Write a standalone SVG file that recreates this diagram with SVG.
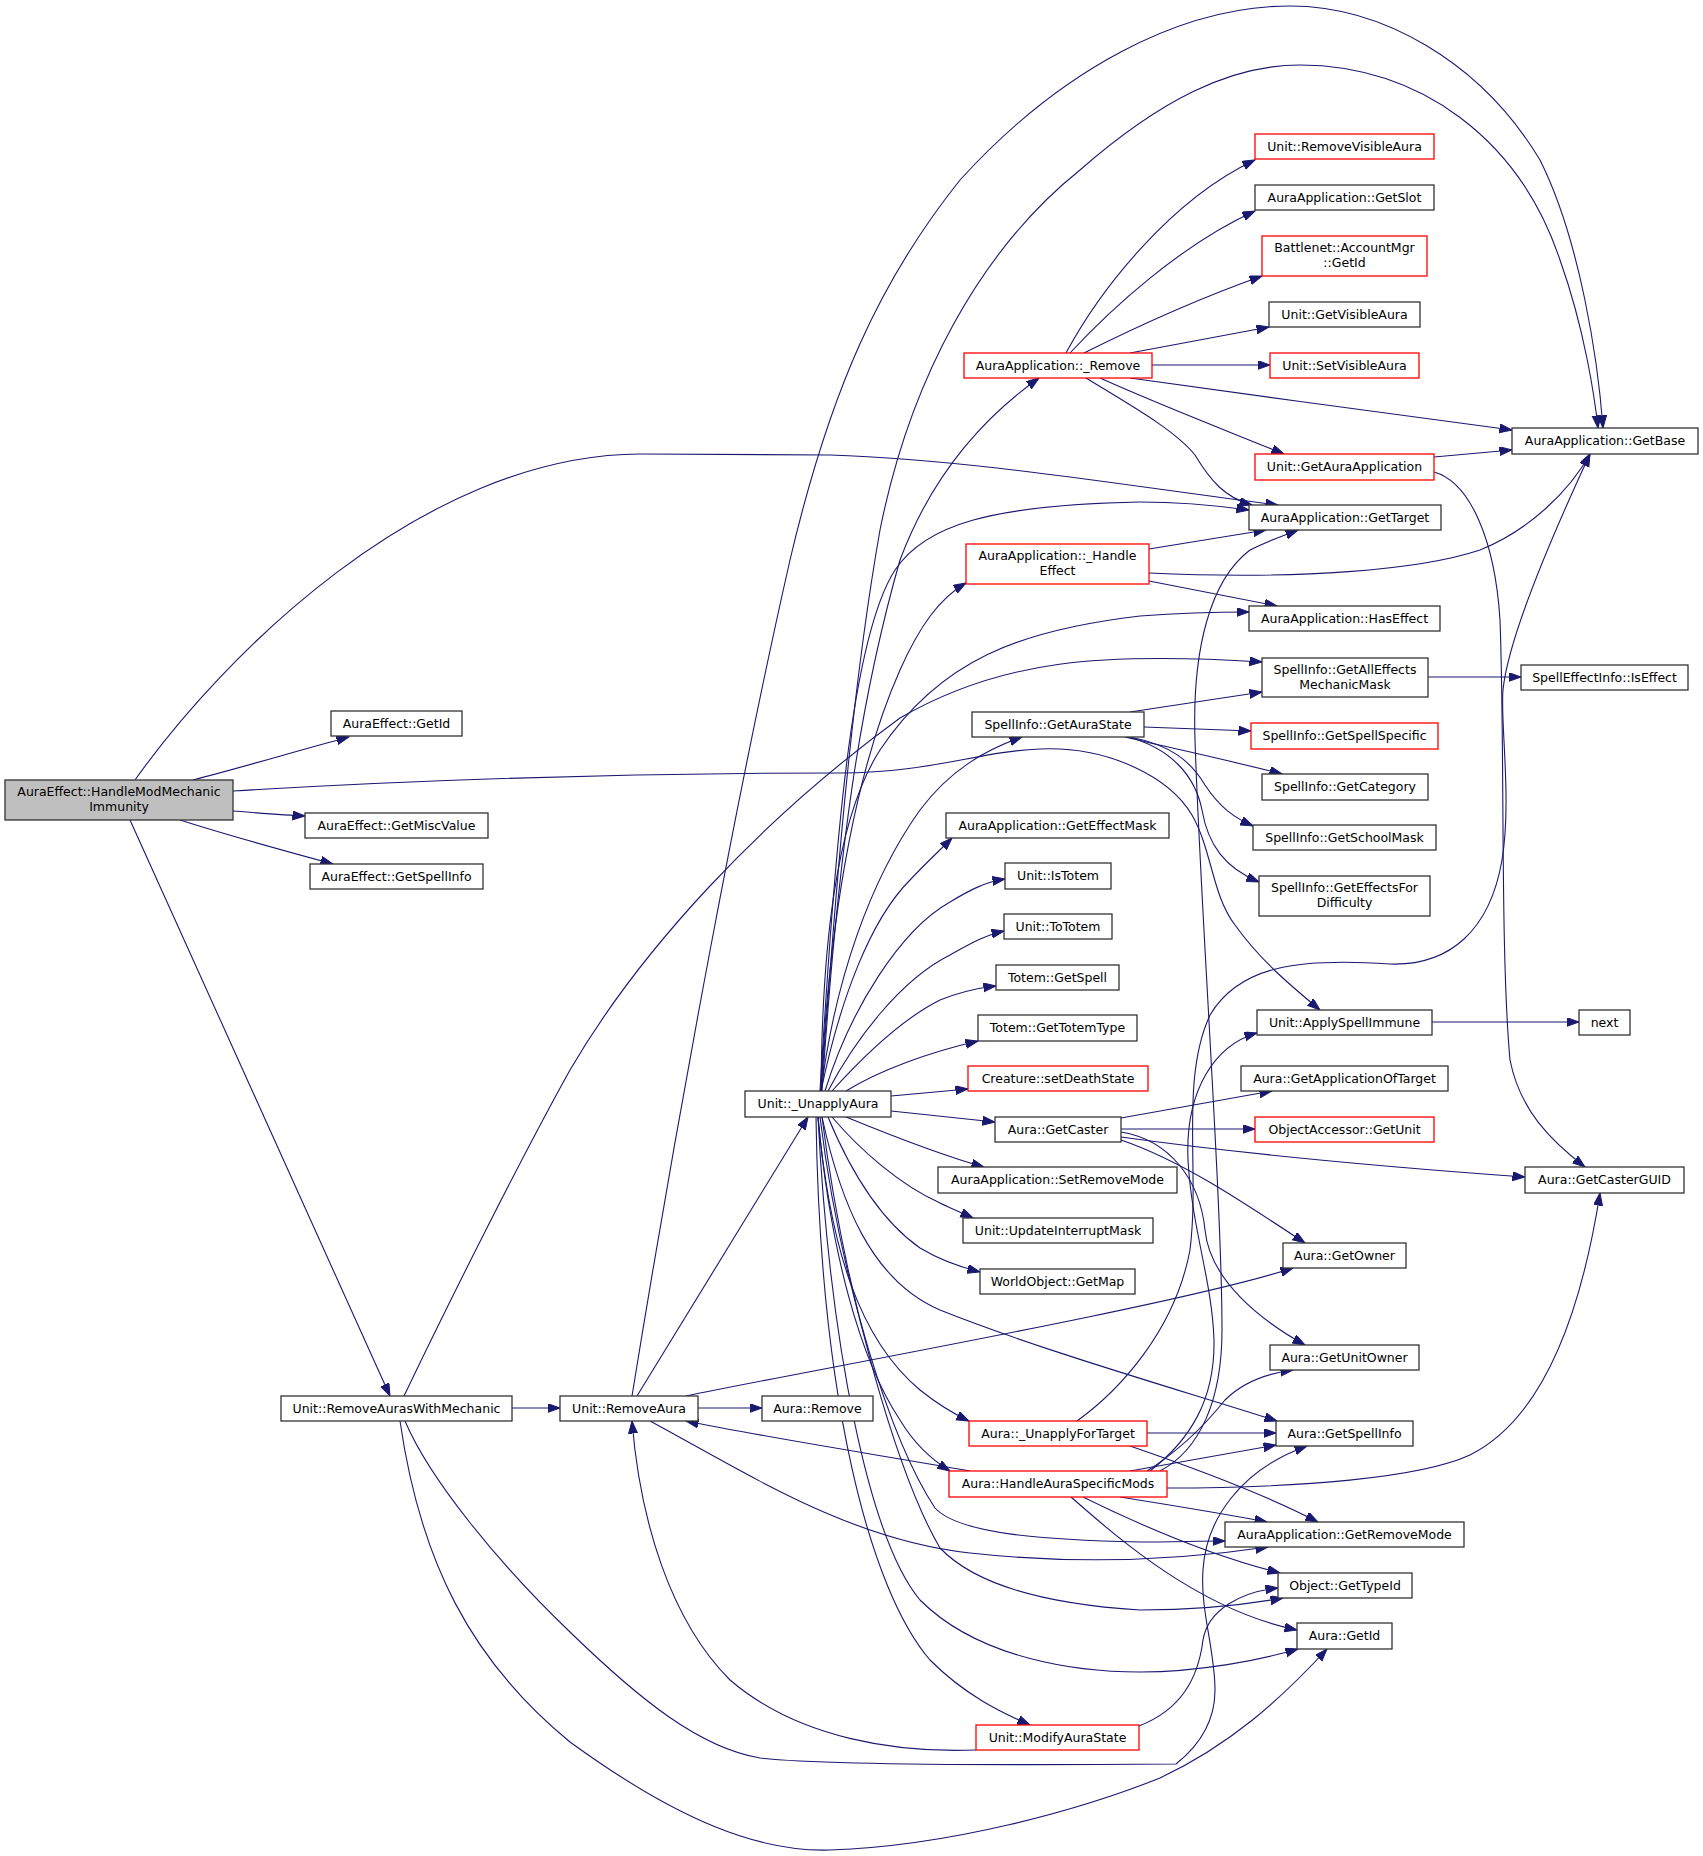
<svg xmlns="http://www.w3.org/2000/svg" width="1703" height="1856" viewBox="0 0 1703 1856">
<style>
.n rect{fill:#ffffff;stroke:#333333;stroke-width:1.3}
.r rect{fill:#ffffff;stroke:#ff0000;stroke-width:1.3}
.g rect{fill:#bfbfbf;stroke:#333333;stroke-width:1.3}
text{font-family:"DejaVu Sans",sans-serif;font-size:12.5px;text-anchor:middle;fill:#000000}
#edges path{fill:none;stroke:#191970;stroke-width:1.1;marker-end:url(#a)}
</style>
<defs>
<marker id="a" markerWidth="14" markerHeight="10" refX="12.5" refY="4.5" orient="auto" markerUnits="userSpaceOnUse">
<path d="M0,0 L12.5,4.5 L0,9 z" fill="#191970" stroke="#191970" stroke-width="1"/>
</marker>
</defs>
<rect x="0" y="0" width="1703" height="1856" fill="#ffffff"/>
<g id="edges">
<path d="M193,780 C247,766 300,750 349,737"/>
<path d="M233,811 C260,813 283,815 305,816"/>
<path d="M180,820 C230,836 285,851 333,864"/>
<path d="M130,820 L390,1396"/>
<path d="M135,780 C220,660 420,455 640,454 L830,455 C980,460 1140,488 1278,505"/>
<path d="M233,791 C400,781 600,773 840,773 C930,773 980,751 1040,749 C1110,746 1170,778 1192,815 C1212,850 1212,895 1235,925 C1260,960 1290,985 1320,1010"/>
<path d="M404,1396 C450,1300 520,1160 570,1070 C640,950 760,820 900,718 C1000,660 1100,652 1262,662"/>
<path d="M512,1408 L560,1408"/>
<path d="M405,1421 C430,1480 500,1565 570,1632 C640,1700 700,1748 760,1758 C830,1766 1050,1765 1176,1764 C1200,1745 1215,1720 1215,1690 C1215,1650 1200,1610 1203,1570 C1206,1520 1240,1470 1307,1446"/>
<path d="M400,1421 C420,1560 470,1660 570,1742 C680,1822 760,1852 830,1850 C950,1846 1080,1810 1160,1778 C1230,1745 1280,1700 1327,1649"/>
<path d="M698,1408 L762,1408"/>
<path d="M637,1396 L808,1117"/>
<path d="M632,1396 C680,1100 740,780 790,560 C830,390 880,280 960,180 C1060,70 1180,6 1290,6 C1380,6 1480,60 1540,160 C1580,240 1598,360 1603,428"/>
<path d="M686,1396 C800,1372 1180,1305 1293,1268"/>
<path d="M650,1421 C750,1475 850,1540 970,1553 C1080,1565 1180,1560 1268,1547"/>
<path d="M821,1091 C835,900 850,700 880,530 C910,380 980,250 1080,170 C1160,100 1230,65 1300,65 C1420,65 1520,140 1560,260 C1585,330 1595,400 1598,428"/>
<path d="M822,1091 C838,850 860,700 900,560 C930,480 980,420 1039,378"/>
<path d="M820,1091 C835,850 850,640 895,570 C925,525 990,505 1140,502 C1180,502 1220,506 1249,510"/>
<path d="M821,1091 C830,900 860,760 900,670 C920,625 940,598 966,583"/>
<path d="M821,1091 C822,950 835,820 880,750 C940,660 1020,630 1140,616 C1180,613 1220,612 1249,612"/>
<path d="M821,1091 C835,980 870,880 920,810 C950,770 985,750 1022,737"/>
<path d="M821,1091 C840,1000 870,920 910,880 C925,864 940,850 952,838"/>
<path d="M825,1091 C850,1010 900,930 950,902 C970,890 985,882 1005,879"/>
<path d="M828,1091 C855,1040 900,980 950,955 C968,945 985,935 1004,931"/>
<path d="M832,1091 C860,1060 900,1020 940,1000 C960,992 978,988 996,986"/>
<path d="M846,1091 C880,1070 930,1052 978,1041"/>
<path d="M891,1096 L968,1089"/>
<path d="M891,1111 L995,1122"/>
<path d="M846,1117 C890,1135 940,1155 984,1167"/>
<path d="M832,1117 C860,1150 900,1185 940,1203 C950,1208 962,1213 973,1218"/>
<path d="M828,1117 C850,1170 880,1220 920,1248 C940,1260 960,1267 980,1272"/>
<path d="M822,1117 C840,1200 870,1280 940,1310 C1040,1350 1180,1390 1277,1421"/>
<path d="M818,1117 C830,1250 860,1340 920,1390 C935,1402 950,1412 969,1421"/>
<path d="M818,1117 C830,1250 860,1360 900,1420 C915,1445 932,1460 950,1471"/>
<path d="M820,1117 C840,1280 890,1440 935,1508 C960,1535 1050,1540 1140,1542 C1170,1542 1200,1541 1225,1541"/>
<path d="M822,1117 C845,1300 900,1480 940,1548 C980,1590 1060,1605 1140,1610 C1200,1610 1250,1604 1283,1598"/>
<path d="M818,1117 C830,1350 870,1540 920,1600 C980,1660 1080,1672 1140,1672 C1200,1672 1260,1660 1298,1649"/>
<path d="M816,1117 C820,1400 870,1590 930,1660 C965,1695 1000,1712 1030,1725"/>
<path d="M970,1471 C880,1455 780,1440 686,1421"/>
<path d="M1160,1471 C1200,1450 1222,1400 1222,1330 C1222,1200 1200,900 1195,740 C1192,650 1210,580 1250,550 C1270,540 1285,535 1298,530"/>
<path d="M1150,1471 C1190,1440 1215,1400 1214,1340 C1212,1280 1192,1230 1188,1160 C1185,1090 1215,1045 1257,1033"/>
<path d="M1147,1471 C1180,1450 1205,1425 1225,1400 C1245,1380 1270,1373 1293,1370"/>
<path d="M1130,1471 L1276,1445"/>
<path d="M1167,1488 C1300,1488 1420,1478 1470,1455 C1540,1420 1580,1320 1600,1193"/>
<path d="M1120,1497 C1170,1505 1220,1513 1267,1522"/>
<path d="M1083,1497 C1150,1530 1220,1558 1280,1573"/>
<path d="M1071,1497 C1120,1540 1200,1610 1297,1630"/>
<path d="M1077,1421 C1120,1390 1175,1330 1190,1250 C1200,1170 1180,1080 1210,1015 C1240,965 1300,958 1390,964 C1450,966 1490,930 1502,860 C1512,800 1500,720 1503,690 C1508,640 1550,540 1590,454"/>
<path d="M1147,1433 L1276,1433"/>
<path d="M1130,1446 C1200,1470 1270,1497 1318,1522"/>
<path d="M976,1750 C900,1753 800,1740 730,1680 C670,1620 640,1520 632,1421"/>
<path d="M1139,1726 C1180,1710 1198,1680 1203,1640 C1208,1610 1240,1592 1278,1588"/>
<path d="M1121,1118 L1272,1091"/>
<path d="M1121,1129 L1255,1129"/>
<path d="M1121,1137 C1250,1155 1400,1168 1525,1177"/>
<path d="M1121,1140 C1180,1160 1240,1200 1305,1243"/>
<path d="M1121,1132 C1170,1140 1200,1180 1205,1230 C1210,1280 1260,1320 1305,1345"/>
<path d="M1130,712 L1262,692"/>
<path d="M1144,727 L1251,731"/>
<path d="M1125,737 C1180,750 1240,763 1282,774"/>
<path d="M1130,737 C1170,745 1190,760 1205,785 C1220,808 1235,818 1253,826"/>
<path d="M1128,737 C1170,748 1195,775 1202,810 C1208,845 1225,868 1259,882"/>
<path d="M1428,677 L1521,677"/>
<path d="M1432,1022 L1579,1022"/>
<path d="M1066,353 C1100,290 1170,200 1255,160"/>
<path d="M1070,353 C1110,310 1180,245 1255,211"/>
<path d="M1084,353 C1140,325 1200,298 1262,276"/>
<path d="M1130,353 L1269,327"/>
<path d="M1152,365 L1270,365"/>
<path d="M1130,378 C1250,395 1400,415 1512,430"/>
<path d="M1100,378 C1160,405 1230,432 1284,454"/>
<path d="M1086,378 C1130,405 1175,430 1195,455 C1210,480 1225,498 1252,505"/>
<path d="M1434,457 L1512,450"/>
<path d="M1434,472 C1470,482 1495,540 1500,620 C1505,750 1500,950 1510,1060 C1520,1110 1550,1140 1585,1167"/>
<path d="M1149,549 L1266,530"/>
<path d="M1149,573 C1300,580 1420,570 1480,550 C1530,530 1570,490 1590,454"/>
<path d="M1149,581 L1277,606"/>
</g>
<g id="n_H" class="g"><rect x="5" y="780" width="228" height="40"/><text x="119" y="796">AuraEffect::HandleModMechanic</text><text x="119" y="810.5">Immunity</text></g>
<g id="n_AEGetId" class="n"><rect x="331" y="711" width="131" height="25"/><text x="396.5" y="728">AuraEffect::GetId</text></g>
<g id="n_AEGetMiscValue" class="n"><rect x="305" y="813" width="183" height="25"/><text x="396.5" y="830">AuraEffect::GetMiscValue</text></g>
<g id="n_AEGetSpellInfo" class="n"><rect x="310" y="864" width="173" height="25"/><text x="396.5" y="881">AuraEffect::GetSpellInfo</text></g>
<g id="n_RAWM" class="n"><rect x="281" y="1396" width="231" height="25"/><text x="396.5" y="1413">Unit::RemoveAurasWithMechanic</text></g>
<g id="n_RA" class="n"><rect x="560" y="1396" width="138" height="25"/><text x="629" y="1413">Unit::RemoveAura</text></g>
<g id="n_AuraRemove" class="n"><rect x="762" y="1396" width="111" height="25"/><text x="817.5" y="1413">Aura::Remove</text></g>
<g id="n_UA" class="n"><rect x="745" y="1091" width="146" height="26"/><text x="818" y="1108">Unit::_UnapplyAura</text></g>
<g id="n_Remove" class="r"><rect x="964" y="353" width="188" height="25"/><text x="1058" y="370">AuraApplication::_Remove</text></g>
<g id="n_HandleEffect" class="r"><rect x="966" y="544" width="183" height="40"/><text x="1057.5" y="560">AuraApplication::_Handle</text><text x="1057.5" y="574.5">Effect</text></g>
<g id="n_GetAuraState" class="n"><rect x="972" y="712" width="172" height="25"/><text x="1058" y="729">SpellInfo::GetAuraState</text></g>
<g id="n_GetEffectMask" class="n"><rect x="946" y="813" width="223" height="25"/><text x="1057.5" y="830">AuraApplication::GetEffectMask</text></g>
<g id="n_IsTotem" class="n"><rect x="1005" y="863" width="106" height="26"/><text x="1058" y="880">Unit::IsTotem</text></g>
<g id="n_ToTotem" class="n"><rect x="1004" y="914" width="108" height="25"/><text x="1058" y="931">Unit::ToTotem</text></g>
<g id="n_GetSpell" class="n"><rect x="996" y="965" width="123" height="25"/><text x="1057.5" y="982">Totem::GetSpell</text></g>
<g id="n_GetTotemType" class="n"><rect x="978" y="1015" width="159" height="26"/><text x="1057.5" y="1032">Totem::GetTotemType</text></g>
<g id="n_setDeathState" class="r"><rect x="968" y="1066" width="180" height="25"/><text x="1058" y="1083">Creature::setDeathState</text></g>
<g id="n_GetCaster" class="n"><rect x="995" y="1117" width="126" height="25"/><text x="1058" y="1134">Aura::GetCaster</text></g>
<g id="n_SetRemoveMode" class="n"><rect x="938" y="1167" width="239" height="26"/><text x="1057.5" y="1184">AuraApplication::SetRemoveMode</text></g>
<g id="n_UpdateInterruptMask" class="n"><rect x="963" y="1218" width="190" height="25"/><text x="1058" y="1235">Unit::UpdateInterruptMask</text></g>
<g id="n_GetMap" class="n"><rect x="980" y="1269" width="155" height="25"/><text x="1057.5" y="1286">WorldObject::GetMap</text></g>
<g id="n_UnapplyForTarget" class="r"><rect x="969" y="1421" width="178" height="25"/><text x="1058" y="1438">Aura::_UnapplyForTarget</text></g>
<g id="n_HASM" class="r"><rect x="949" y="1471" width="218" height="26"/><text x="1058" y="1488">Aura::HandleAuraSpecificMods</text></g>
<g id="n_ModifyAuraState" class="r"><rect x="976" y="1725" width="163" height="25"/><text x="1057.5" y="1742">Unit::ModifyAuraState</text></g>
<g id="n_RemoveVisibleAura" class="r"><rect x="1255" y="134" width="179" height="25"/><text x="1344.5" y="151">Unit::RemoveVisibleAura</text></g>
<g id="n_GetSlot" class="n"><rect x="1255" y="185" width="179" height="25"/><text x="1344.5" y="202">AuraApplication::GetSlot</text></g>
<g id="n_BNetGetId" class="r"><rect x="1262" y="236" width="165" height="40"/><text x="1344.5" y="252">Battlenet::AccountMgr</text><text x="1344.5" y="266.5">::GetId</text></g>
<g id="n_GetVisibleAura" class="n"><rect x="1269" y="302" width="151" height="25"/><text x="1344.5" y="319">Unit::GetVisibleAura</text></g>
<g id="n_SetVisibleAura" class="r"><rect x="1270" y="353" width="149" height="25"/><text x="1344.5" y="370">Unit::SetVisibleAura</text></g>
<g id="n_GetAuraApplication" class="r"><rect x="1255" y="454" width="179" height="26"/><text x="1344.5" y="471">Unit::GetAuraApplication</text></g>
<g id="n_GetTarget" class="n"><rect x="1249" y="505" width="192" height="25"/><text x="1345" y="522">AuraApplication::GetTarget</text></g>
<g id="n_HasEffect" class="n"><rect x="1249" y="606" width="191" height="25"/><text x="1344.5" y="623">AuraApplication::HasEffect</text></g>
<g id="n_GetAllEffects" class="n"><rect x="1262" y="658" width="166" height="39"/><text x="1345" y="674">SpellInfo::GetAllEffects</text><text x="1345" y="688.5">MechanicMask</text></g>
<g id="n_GetSpellSpecific" class="r"><rect x="1251" y="723" width="187" height="26"/><text x="1344.5" y="740">SpellInfo::GetSpellSpecific</text></g>
<g id="n_GetCategory" class="n"><rect x="1262" y="774" width="166" height="26"/><text x="1345" y="791">SpellInfo::GetCategory</text></g>
<g id="n_GetSchoolMask" class="n"><rect x="1253" y="825" width="183" height="25"/><text x="1344.5" y="842">SpellInfo::GetSchoolMask</text></g>
<g id="n_GetEffectsForDifficulty" class="n"><rect x="1259" y="876" width="171" height="40"/><text x="1344.5" y="892">SpellInfo::GetEffectsFor</text><text x="1344.5" y="906.5">Difficulty</text></g>
<g id="n_ApplySpellImmune" class="n"><rect x="1257" y="1010" width="175" height="25"/><text x="1344.5" y="1027">Unit::ApplySpellImmune</text></g>
<g id="n_GetApplicationOfTarget" class="n"><rect x="1241" y="1066" width="207" height="25"/><text x="1344.5" y="1083">Aura::GetApplicationOfTarget</text></g>
<g id="n_ObjAccGetUnit" class="r"><rect x="1255" y="1117" width="179" height="25"/><text x="1344.5" y="1134">ObjectAccessor::GetUnit</text></g>
<g id="n_GetOwner" class="n"><rect x="1283" y="1243" width="123" height="25"/><text x="1344.5" y="1260">Aura::GetOwner</text></g>
<g id="n_GetUnitOwner" class="n"><rect x="1270" y="1345" width="149" height="25"/><text x="1344.5" y="1362">Aura::GetUnitOwner</text></g>
<g id="n_AuraGetSpellInfo" class="n"><rect x="1276" y="1421" width="137" height="25"/><text x="1344.5" y="1438">Aura::GetSpellInfo</text></g>
<g id="n_GetRemoveMode" class="n"><rect x="1225" y="1522" width="239" height="25"/><text x="1344.5" y="1539">AuraApplication::GetRemoveMode</text></g>
<g id="n_GetTypeId" class="n"><rect x="1278" y="1573" width="134" height="25"/><text x="1345" y="1590">Object::GetTypeId</text></g>
<g id="n_AuraGetId" class="n"><rect x="1297" y="1623" width="95" height="26"/><text x="1344.5" y="1640">Aura::GetId</text></g>
<g id="n_GetBase" class="n"><rect x="1512" y="428" width="186" height="26"/><text x="1605" y="445">AuraApplication::GetBase</text></g>
<g id="n_IsEffect" class="n"><rect x="1521" y="665" width="167" height="25"/><text x="1604.5" y="682">SpellEffectInfo::IsEffect</text></g>
<g id="n_next" class="n"><rect x="1579" y="1010" width="51" height="25"/><text x="1604.5" y="1027">next</text></g>
<g id="n_GetCasterGUID" class="n"><rect x="1525" y="1167" width="159" height="26"/><text x="1604.5" y="1184">Aura::GetCasterGUID</text></g>
</svg>
